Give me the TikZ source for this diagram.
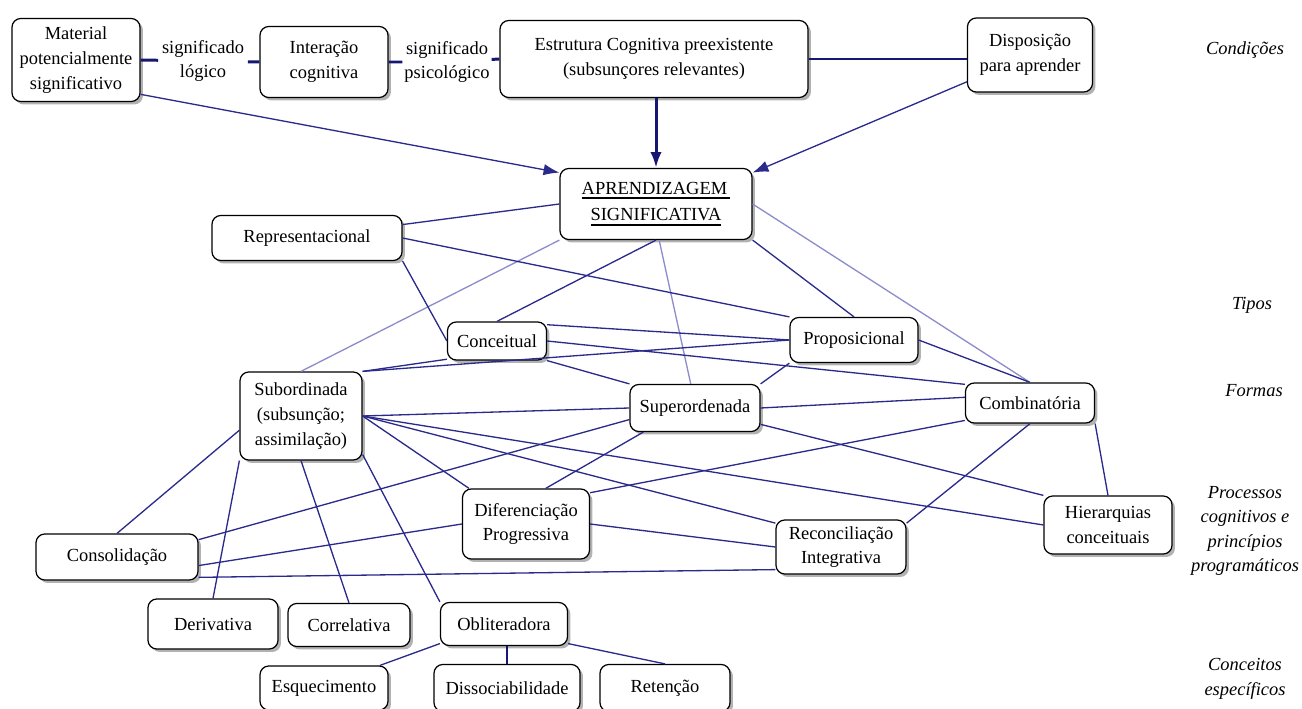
\documentclass[tikz,border=0pt]{standalone}
\usepackage{fontspec}
\setmainfont{Liberation Serif}
\usetikzlibrary{arrows.meta,shadows}
\definecolor{navy}{RGB}{42,42,140}
\definecolor{deepnavy}{RGB}{22,22,115}
\definecolor{lav}{RGB}{140,140,205}
\newsavebox{\ulbox}
\newcommand{\boldul}[1]{\sbox{\ulbox}{#1}\rlap{\usebox{\ulbox}}\raisebox{-2.6pt}{\rule{\wd\ulbox}{1.1pt}}}
\begin{document}
\begin{tikzpicture}[x=0.02cm,y=-0.02cm,>={Latex[length=9pt,width=6.5pt]},
        concept/.style={draw=black,line width=0.7pt,rounded corners=5pt,fill=white,
                align=center,inner sep=2pt,font=\fontsize{10.5}{14}\selectfont,
                drop shadow={shadow xshift=1.7pt,shadow yshift=-1.7pt,fill=black!60}},
        sz/.style 2 args={minimum width=#1*0.02cm,minimum height=#2*0.02cm},
        linklabel/.style={inner sep=2pt,align=center,font=\fontsize{10.5}{14}\selectfont},
        side/.style={align=center,font=\fontsize{10.5}{14}\selectfont\itshape},
        thickline/.style={deepnavy,line width=1.7pt},
        navyline/.style={navy,line width=0.75pt},
        lightline/.style={lav,line width=0.75pt}]
        \useasboundingbox (0,0) rectangle (1302,709);

        % the conditions
        \node[concept,sz={128}{83}] (mat) at (76,60) {Material\\potencialmente\\significativo};
        \node[concept,sz={128}{71}] (int) at (324,62) {Interação\\cognitiva};
        \node[concept,sz={308}{77}] (est) at (654,59) {Estrutura Cognitiva preexistente\\(subsunçores relevantes)};
        \node[concept,sz={125}{74}] (disp) at (1030,55) {Disposição\\para aprender};
        \node[linklabel] (lbl1) at (203,61) {significado\\lógico};
        \node[linklabel,inner sep=1pt] (lbl2) at (447,62) {significado\\psicológico};

        % the central concept
        \node[concept,sz={192}{71}] (apr) at (656,204) {\boldul{APRENDIZAGEM\,}\\[1pt]\boldul{SIGNIFICATIVA}};

        % types and forms
        \node[concept,sz={190}{45}] (rep) at (307,238) {Representacional};
        \node[concept,sz={99}{38}] (conc) at (497,341) {Conceitual};
        \node[concept,sz={128}{45}] (prop) at (854,340) {Proposicional};
        \node[concept,sz={122}{88}] (sub) at (301,416) {Subordinada\\(subsunção;\\assimilação)};
        \node[concept,sz={130}{47}] (super) at (695,408) {Superordenada};
        \node[concept,sz={129}{40}] (comb) at (1030,403) {Combinatória};

        % processes and principles
        \node[concept,sz={127}{70}] (dif) at (526,524) {Diferenciação\\Progressiva};
        \node[concept,sz={130}{54}] (rec) at (841,547) {Reconciliação\\Integrativa};
        \node[concept,sz={128}{58}] (hier) at (1108,525) {Hierarquias\\conceituais};
        \node[concept,sz={162}{46}] (cons) at (117,557) {Consolidação};

        % specific concepts
        \node[concept,sz={130}{50}] (der) at (213,624) {Derivativa};
        \node[concept,sz={122}{43}] (cor) at (349,625) {Correlativa};
        \node[concept,sz={127}{43}] (obl) at (504,624) {Obliteradora};
        \node[concept,sz={128}{44}] (esq) at (324,688) {Esquecimento};
        \node[concept,sz={146}{47}] (dis) at (507,688) {Dissociabilidade};
        \node[concept,sz={130}{47}] (ret) at (665,688) {Retenção};

        % the level names on the right
        \node[side] (cond) at (1245,50) {Condições};
        \node[side] (tipos) at (1252,305) {Tipos};
        \node[side] (formas) at (1254,391) {Formas};
        \node[side] (proc) at (1245,531) {Processos\\cognitivos e\\princípios\\programáticos};
        \node[side] (espec) at (1245,679) {Conceitos\\específicos};

        % thick connectors of the conditions
        \draw[thickline] (mat.east) -- (lbl1) -- (int.west);
        \draw[thickline] (int.east) -- (lbl2) -- (est.west);
        \draw[thickline] (est.east) -- (est.east -| disp.west);
        \draw[thickline,->] (apr.north |- est.south) -- (apr.north);
        \draw[navyline,->] (mat.-28) -- (apr.162);
        \draw[navyline,->] (disp.203) -- (apr.18);

        % light connectors
        \foreach \a/\b in {apr.south west/sub.north, apr.-85/super.100, apr.east/comb.north}
                \draw[lightline] (\a) -- (\b);

        % dark connectors
        \foreach \a/\b in {apr.west/rep.8, apr.south/conc.north, apr.south east/prop.north,
                rep.south east/conc.west, rep.east/prop.north west,
                conc.18/prop.west, conc.east/comb.164, conc.south east/super.north west,
                conc.200/sub.north east, prop.west/sub.north east,
                prop.south west/super.north east, prop.east/comb.north,
                sub.east/super.west, sub.east/dif.148, sub.east/rec.160, sub.east/hier.west,
                sub.193/cons.north, sub.south west/der.north, sub.south/cor.north,
                sub.-32/obl.north west,
                super.190/cons.12, super.205/dif.61, super.-14/hier.north west,
                super.east/comb.175,
                comb.195/dif.26, comb.south/rec.20, comb.south east/hier.north,
                dif.east/rec.west, dif.west/cons.-6, cons.-14/rec.199,
                obl.197/esq.22, obl.-17/ret.north}
                \draw[navyline] (\a) -- (\b);
        \draw[thickline] (dis.north |- obl.south) -- (dis.north);
\end{tikzpicture}
\end{document}
